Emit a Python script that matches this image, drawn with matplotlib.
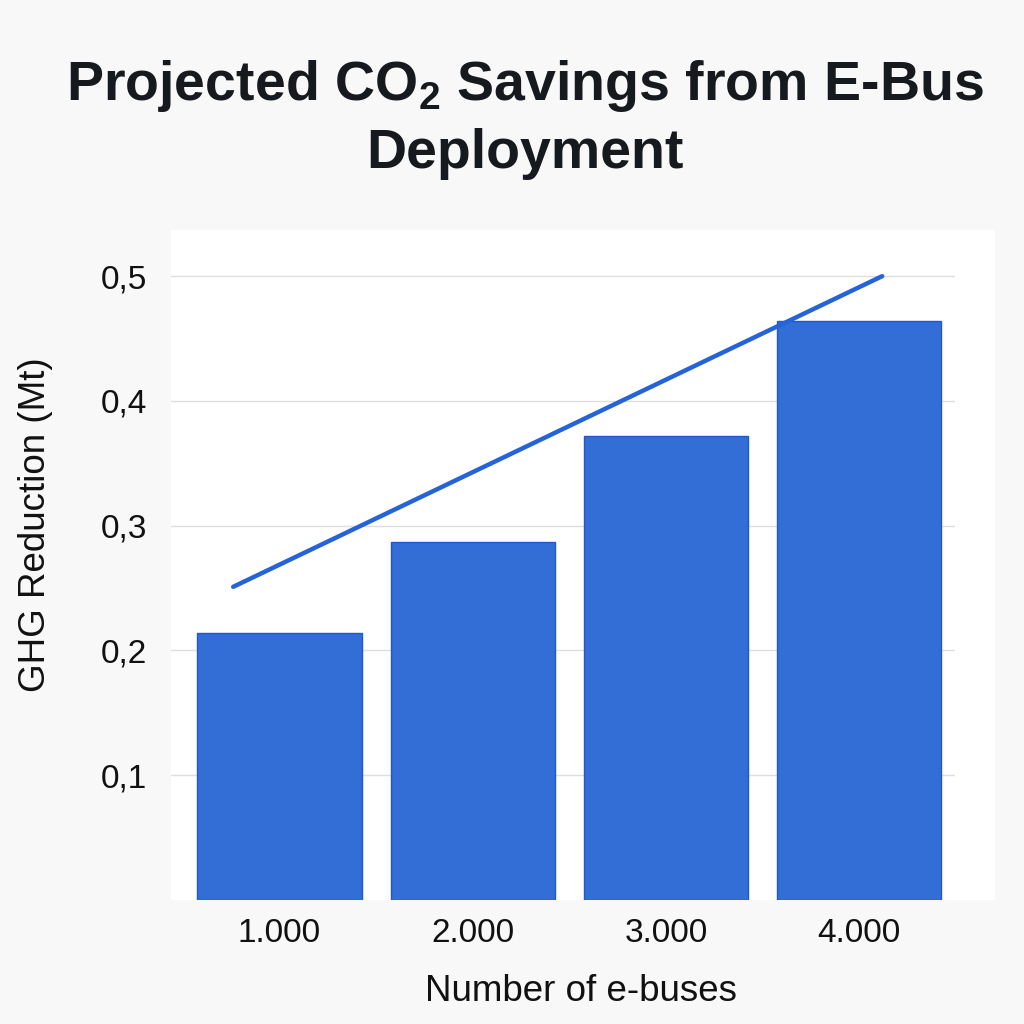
import matplotlib
matplotlib.use("Agg")
import matplotlib.pyplot as plt
from matplotlib.patches import Rectangle

# data
buses = [1000, 2000, 3000, 4000]
bus_labels = ["1.000", "2.000", "3.000", "4.000"]
ghg_reduction = [0.214, 0.287, 0.372, 0.464]   # Mt
trend_x = [760, 4120]
trend_y = [0.251, 0.500]
yticks = [0.1, 0.2, 0.3, 0.4, 0.5]

plt.rcParams['font.family'] = ['Liberation Sans', 'DejaVu Sans']
plt.rcParams['mathtext.fontset'] = 'custom'
plt.rcParams['mathtext.rm'] = 'Liberation Sans'
plt.rcParams['mathtext.bf'] = 'Liberation Sans:bold'

fig = plt.figure(figsize=(10.24, 10.24), dpi=100, facecolor='#f8f8f8')

# white panel behind the plot
fig.patches.append(Rectangle((171/1024, 1-900/1024), 824/1024, 670/1024,
                             transform=fig.transFigure, facecolor='white',
                             edgecolor='none', zorder=0))

ax = fig.add_axes([171/1024, 1-900/1024, 784/1024, 670/1024])
ax.set_zorder(2)
ax.set_facecolor('none')

ax.bar(buses, ghg_reduction, width=850, color='#336dd6', edgecolor='#1f58d2',
       linewidth=1, zorder=2)
ax.plot(trend_x, trend_y, color='#2563d8', linewidth=3.2, solid_capstyle='round', zorder=3)

ax.set_xlim(438, 4497)
ax.set_ylim(0, 0.537)
ax.set_xticks(buses)
ax.set_xticklabels(bus_labels)
ax.set_yticks(yticks)
ax.set_yticklabels([("%.1f" % v).replace('.', ',') for v in yticks])
ax.tick_params(axis='both', length=0, labelsize=24, colors='#111111')
ax.tick_params(axis='y', pad=17)
ax.tick_params(axis='x', pad=13)
ax.grid(axis='y', color='#dedede', linewidth=1, zorder=0)
ax.set_axisbelow(True)
for s in ax.spines.values():
    s.set_visible(False)

ax.set_ylabel("GHG Reduction (Mt)", fontsize=26.5, color='#111111')
ax.yaxis.set_label_coords(-0.15, 0.56)
ax.set_xlabel("Number of e-buses", fontsize=26.5, color='#111111')
ax.xaxis.set_label_coords(0.523, -0.11)

fig.text(0.513, 1-168/1024, "Projected CO$_\\mathbf{2}$ Savings from E-Bus\nDeployment",
         ha='center', va='baseline', fontsize=40, fontweight='bold',
         color='#16191d', linespacing=1.35, multialignment='center')

fig.savefig("out.png", dpi=100, facecolor=fig.get_facecolor())
